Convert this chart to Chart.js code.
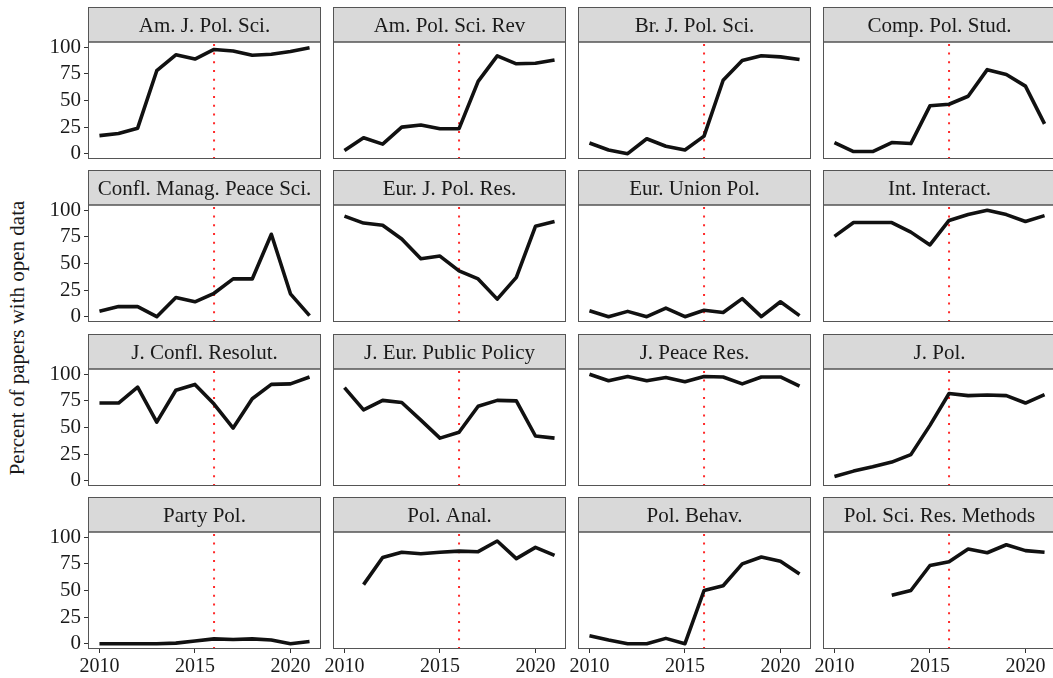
<!DOCTYPE html>
<html>
<head>
<meta charset="utf-8">
<script src="https://cdn.jsdelivr.net/npm/chart.js@4.4.0/dist/chart.umd.min.js"></script>
<style>
body { margin: 0; background: #fff; width: 1053px; height: 678px; overflow: hidden; position: relative; font-family: "Liberation Serif", serif; }
canvas { position: absolute; }
#ylab { position: absolute; left: 17px; top: 338px; transform: translate(-50%, -50%) rotate(-90deg); font-size: 21px; white-space: nowrap; color: #1a1a1a; }
</style>
</head>
<body>
<div id="ylab">Percent of papers with open data</div>
<script>
const years = [2010, 2011, 2012, 2013, 2014, 2015, 2016, 2017, 2018, 2019, 2020, 2021];
const xTicks = [2010, 2015, 2020];
const yTicks = [0, 25, 50, 75, 100];
const cutoffYear = 2016;

// percent of papers with open data, per journal
const amJPolSci      = [17, 19, 24, 78, 93, 89, 98, 96.5, 92.5, 93.5, 96, 99.5];
const amPolSciRev    = [3, 15, 9, 25, 27, 23.5, 23.5, 68, 92, 84.5, 85, 88];
const brJPolSci      = [10, 3.5, 0, 14, 7, 3.5, 16.5, 69, 87.5, 92, 91, 88.5];
const compPolStud    = [10.5, 2, 2, 10.5, 9.5, 45, 46.5, 54, 79, 74.5, 63.5, 28];
const conflManag     = [5, 9.5, 9.5, 0, 18, 14, 22, 35.5, 35.5, 77.5, 21.5, 1];
const eurJPolRes     = [94.5, 88, 86, 73, 54.5, 57, 43, 35.5, 16.5, 37, 85, 89.5];
const eurUnionPol    = [5.5, 0, 5, 0, 8, 0, 6, 4, 17, 0, 14, 1];
const intInteract    = [75.5, 88.5, 88.5, 88.5, 79.5, 67.5, 90.5, 96, 100, 96, 89.5, 95];
const jConflResolut  = [73, 73, 88, 55, 85, 90.5, 72, 49.5, 77, 90.5, 91, 97.5];
const jEurPublicPol  = [87.5, 66.5, 75.5, 73.5, 57, 40, 45.5, 70, 75.5, 75, 42, 40];
const jPeaceRes      = [100, 94, 98, 94, 97, 93, 98, 97.5, 91, 97.5, 97.5, 89];
const jPol           = [4, 9, 13, 17.5, 24.5, 52, 82, 80, 80.5, 80, 73, 81];
const partyPol       = [0, 0, 0, 0, 0.5, 2.5, 4.5, 4, 4.5, 3.5, 0, 2];
const polAnal        = [null, 55.5, 81, 86, 84.5, 86, 87, 86.5, 96.5, 80, 90.5, 83];
const polBehav       = [7.5, 3.5, 0, 0, 5, 0, 50, 54.5, 75, 81.5, 77.5, 65.5];
const polSciResMeth  = [null, null, null, 45.5, 50, 73.5, 77, 89, 85.5, 93, 87.5, 86];

const panels = [
  ['Am. J. Pol. Sci.', amJPolSci],
  ['Am. Pol. Sci. Rev', amPolSciRev],
  ['Br. J. Pol. Sci.', brJPolSci],
  ['Comp. Pol. Stud.', compPolStud],
  ['Confl. Manag. Peace Sci.', conflManag],
  ['Eur. J. Pol. Res.', eurJPolRes],
  ['Eur. Union Pol.', eurUnionPol],
  ['Int. Interact.', intInteract],
  ['J. Confl. Resolut.', jConflResolut],
  ['J. Eur. Public Policy', jEurPublicPol],
  ['J. Peace Res.', jPeaceRes],
  ['J. Pol.', jPol],
  ['Party Pol.', partyPol],
  ['Pol. Anal.', polAnal],
  ['Pol. Behav.', polBehav],
  ['Pol. Sci. Res. Methods', polSciResMeth]
];

const colLeft = [0, 245, 490, 735];
const rowTop = [7, 170, 334, 497];
const serif = 'Liberation Serif';

// grey strip with the journal name + panel border
const stripPlugin = {
  id: 'strip',
  afterDraw(chart, args, opts) {
    const ctx = chart.ctx;
    const a = chart.chartArea;
    ctx.save();
    ctx.fillStyle = '#d9d9d9';
    ctx.fillRect(a.left, 0, a.right - a.left, a.top);
    ctx.strokeStyle = '#555';
    ctx.lineWidth = 1;
    ctx.strokeRect(a.left + 0.5, 0.5, a.right - a.left - 1, a.top - 0.5);
    ctx.strokeRect(a.left + 0.5, a.top, a.right - a.left - 1, a.bottom - a.top - 0.5);
    ctx.fillStyle = '#1a1a1a';
    ctx.font = '21px "' + serif + '"';
    ctx.textAlign = 'center';
    ctx.textBaseline = 'middle';
    ctx.fillText(opts.title, (a.left + a.right) / 2, a.top / 2 + 1.5);
    ctx.restore();
  }
};

panels.forEach(([title, vals], i) => {
  const r = Math.floor(i / 4);
  const c = i % 4;
  const cv = document.createElement('canvas');
  cv.width = 321;
  cv.height = 176;
  cv.style.left = colLeft[c] + 'px';
  cv.style.top = rowTop[r] + 'px';
  document.body.appendChild(cv);

  new Chart(cv, {
    type: 'line',
    data: {
      datasets: [
        {
          data: years.map((y, k) => ({ x: y, y: vals[k] })),
          borderColor: '#111',
          borderWidth: 3.6,
          borderJoinStyle: 'round',
          pointRadius: 0,
          spanGaps: false,
          tension: 0
        },
        {
          data: [{ x: cutoffYear, y: -5 }, { x: cutoffYear, y: 105 }],
          borderColor: '#ff2a2a',
          borderWidth: 2,
          borderDash: [2, 6.7],
          pointRadius: 0
        }
      ]
    },
    options: {
      responsive: false,
      animation: false,
      events: [],
      layout: { padding: { top: 35, left: 0, right: 0, bottom: 0 } },
      plugins: {
        legend: { display: false },
        tooltip: { enabled: false },
        strip: { title: title }
      },
      scales: {
        x: {
          type: 'linear',
          min: 2009.4,
          max: 2021.6,
          afterBuildTicks: s => { s.ticks = xTicks.map(v => ({ value: v })); },
          afterFit: s => { s.height = 24; },
          border: { display: false },
          grid: { drawOnChartArea: false, drawTicks: r === 3, tickLength: 4, tickColor: '#333' },
          ticks: {
            display: r === 3,
            padding: 2,
            maxRotation: 0,
            color: '#1a1a1a',
            font: { family: serif, size: 20 },
            callback: v => String(v)
          }
        },
        y: {
          min: -5,
          max: 105,
          afterBuildTicks: s => { s.ticks = yTicks.map(v => ({ value: v })); },
          afterFit: s => { s.width = 88; },
          border: { display: false },
          grid: { drawOnChartArea: false, drawTicks: c === 0, tickLength: 4, tickColor: '#333' },
          ticks: {
            display: c === 0,
            padding: 3,
            color: '#1a1a1a',
            font: { family: serif, size: 21 },
            callback: v => String(v)
          }
        }
      }
    },
    plugins: [stripPlugin]
  });
});
</script>
</body>
</html>
